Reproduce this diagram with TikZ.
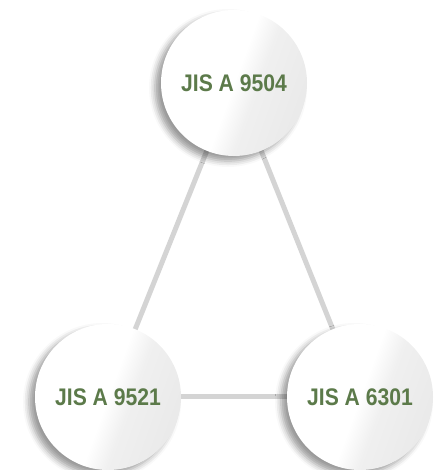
\documentclass[tikz,border=0pt]{standalone}
\usepackage{fontspec}
\setmainfont{Liberation Sans}[FakeStretch=0.88]
\usetikzlibrary{shadows.blur,backgrounds}
\definecolor{jisgreen}{RGB}{92,122,74}
\definecolor{linkgray}{RGB}{212,212,212}
\pgfdeclarehorizontalshading{discshade}{100bp}{
  color(0bp)=(white); color(50bp)=(white); color(58bp)=(black!6); color(100bp)=(black!12)}
\tikzset{
  stdcircle/.style={circle, minimum size=146pt, inner sep=0pt,
    shading=discshade, shading angle=-20,
    blur shadow={shadow xshift=-6pt, shadow yshift=-5pt, shadow blur radius=6pt, shadow opacity=40},
    font=\fontsize{24}{24}\selectfont\bfseries, text=jisgreen},
  link/.style={draw=linkgray, line width=5pt}
}
\begin{document}
\begin{tikzpicture}[x=1pt,y=1pt]
\useasboundingbox (0,0) rectangle (435,470);
\node[stdcircle] (top) at (234,387) {JIS A 9504};
\node[stdcircle] (bl) at (108,73) {JIS A 9521};
\node[stdcircle] (br) at (360,73) {JIS A 6301};
\begin{scope}[on background layer]
\draw[link] (top.center) -- (bl.center);
\draw[link] (top.center) -- (br.center);
\draw[link] (bl.center) -- (br.center);
\end{scope}
\end{tikzpicture}
\end{document}
